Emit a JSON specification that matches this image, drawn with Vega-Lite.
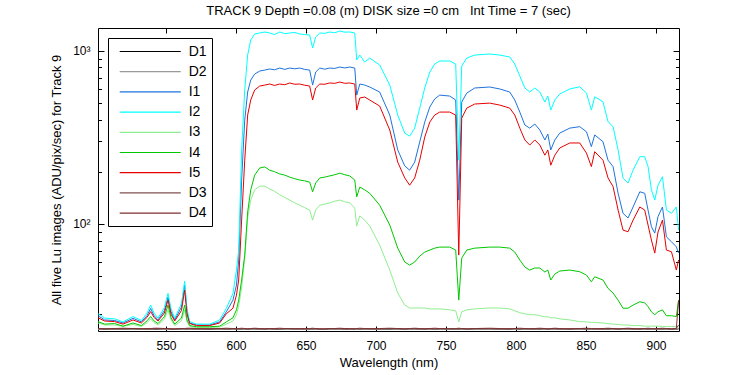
{
 "$schema": "https://vega.github.io/schema/vega-lite/v6.json",
 "width": 581, "height": 303,
 "autosize": {"type": "none"},
 "padding": {"left": 98, "top": 28, "right": 71, "bottom": 44},
 "background": "white",
 "title": {"text": "TRACK 9 Depth =0.08 (m) DISK size =0 cm \u00a0 Int Time = 7 (sec)", "fontSize": 13, "fontWeight": "normal", "font": "Liberation Sans", "color": "black", "offset": 10},
 "config": {
  "view": {"stroke": "black", "strokeWidth": 1},
  "font": "Liberation Sans",
  "axis": {"grid": false, "domain": false, "tickColor": "black", "tickWidth": 1, "labelColor": "black", "titleColor": "black", "labelFont": "Liberation Sans", "titleFont": "Liberation Sans", "labelFontSize": 12, "titleFontSize": 13, "titleFontWeight": "normal"},
  "legend": {"orient": "none", "legendX": 10, "legendY": 10, "strokeColor": "black", "fillColor": "white", "padding": 5, "symbolType": "M-0.24,0H7.9", "symbolSize": 225, "symbolStrokeWidth": 1.2, "labelOffset": 58.7, "labelFontSize": 14, "labelFont": "Liberation Sans", "labelColor": "black", "rowPadding": 4.2, "labelExpr": "datum.label + '  '"}
 },
 "data": {"values": [
  {"wl": 501.4, "D1": 24.6, "D2": 24.5, "I1": 29.4, "I2": 30.2, "I3": 26.7, "I4": 27.2, "I5": 28.6, "D3": 24.7, "D4": 24.8},
  {"wl": 506.2, "D1": 24.5, "D2": 24.6, "I1": 27.8, "I2": 28.5, "I3": 26.0, "I4": 26.3, "I5": 27.4, "D3": 24.8, "D4": 24.7},
  {"wl": 513.3, "D1": 24.7, "D2": 24.5, "I1": 27.6, "I2": 28.2, "I3": 26.0, "I4": 26.5, "I5": 27.2, "D3": 24.6, "D4": 24.8},
  {"wl": 519.3, "D1": 24.6, "D2": 24.6, "I1": 26.7, "I2": 27.1, "I3": 25.5, "I4": 25.6, "I5": 26.3, "D3": 24.7, "D4": 24.9},
  {"wl": 526.4, "D1": 24.5, "D2": 24.5, "I1": 28.4, "I2": 29.1, "I3": 26.2, "I4": 26.7, "I5": 27.8, "D3": 24.8, "D4": 24.8},
  {"wl": 532.4, "D1": 24.7, "D2": 24.6, "I1": 27.1, "I2": 27.6, "I3": 25.5, "I4": 25.8, "I5": 26.7, "D3": 24.7, "D4": 24.7},
  {"wl": 536.5, "D1": 24.6, "D2": 24.5, "I1": 29.5, "I2": 30.5, "I3": 26.8, "I4": 27.5, "I5": 28.8, "D3": 24.6, "D4": 24.8},
  {"wl": 539.0, "D1": 24.6, "D2": 24.5, "I1": 32.4, "I2": 33.9, "I3": 28.2, "I4": 29.1, "I5": 31.1, "D3": 24.6, "D4": 24.8},
  {"wl": 541.5, "D1": 24.5, "D2": 24.6, "I1": 29.4, "I2": 30.4, "I3": 26.8, "I4": 27.4, "I5": 28.7, "D3": 24.8, "D4": 24.9},
  {"wl": 544.3, "D1": 24.5, "D2": 24.6, "I1": 27.8, "I2": 28.5, "I3": 26.0, "I4": 26.5, "I5": 27.4, "D3": 24.8, "D4": 24.9},
  {"wl": 548.8, "D1": 24.7, "D2": 24.5, "I1": 31.5, "I2": 32.8, "I3": 28.0, "I4": 29.0, "I5": 30.5, "D3": 24.7, "D4": 24.8},
  {"wl": 551.4, "D1": 24.7, "D2": 24.5, "I1": 37.7, "I2": 39.6, "I3": 31.8, "I4": 33.9, "I5": 36.2, "D3": 24.7, "D4": 24.8},
  {"wl": 553.6, "D1": 24.6, "D2": 24.6, "I1": 31.0, "I2": 32.2, "I3": 27.8, "I4": 28.6, "I5": 30.0, "D3": 24.6, "D4": 24.7},
  {"wl": 556.2, "D1": 24.6, "D2": 24.6, "I1": 27.8, "I2": 28.5, "I3": 25.8, "I4": 26.3, "I5": 27.4, "D3": 24.6, "D4": 24.7},
  {"wl": 561.0, "D1": 24.5, "D2": 24.5, "I1": 33.0, "I2": 34.5, "I3": 27.5, "I4": 28.5, "I5": 31.5, "D3": 24.8, "D4": 24.8},
  {"wl": 563.3, "D1": 24.5, "D2": 24.5, "I1": 44.2, "I2": 46.6, "I3": 31.8, "I4": 33.9, "I5": 41.4, "D3": 24.8, "D4": 24.8},
  {"wl": 565.0, "D1": 24.6, "D2": 24.6, "I1": 31.0, "I2": 32.0, "I3": 27.0, "I4": 27.8, "I5": 30.0, "D3": 24.7, "D4": 24.9},
  {"wl": 566.9, "D1": 24.7, "D2": 24.6, "I1": 26.7, "I2": 27.2, "I3": 25.5, "I4": 25.8, "I5": 26.5, "D3": 24.7, "D4": 24.9},
  {"wl": 571.7, "D1": 24.6, "D2": 24.5, "I1": 26.0, "I2": 26.3, "I3": 25.1, "I4": 25.4, "I5": 25.8, "D3": 24.6, "D4": 24.8},
  {"wl": 581.2, "D1": 24.5, "D2": 24.6, "I1": 26.0, "I2": 26.3, "I3": 25.1, "I4": 25.4, "I5": 25.8, "D3": 24.8, "D4": 24.7},
  {"wl": 588.3, "D1": 24.7, "D2": 24.5, "I1": 27.1, "I2": 27.8, "I3": 25.3, "I4": 25.6, "I5": 26.7, "D3": 24.7, "D4": 24.8},
  {"wl": 593.1, "D1": 24.6, "D2": 24.6, "I1": 31.0, "I2": 32.5, "I3": 26.3, "I4": 27.1, "I5": 30.2, "D3": 24.6, "D4": 24.9},
  {"wl": 597.8, "D1": 24.5, "D2": 24.5, "I1": 36.2, "I2": 39.6, "I3": 27.4, "I4": 28.6, "I5": 32.5, "D3": 24.8, "D4": 24.8},
  {"wl": 600.3, "D1": 24.7, "D2": 24.6, "I1": 44.2, "I2": 54.0, "I3": 29.8, "I4": 31.8, "I5": 38.7, "D3": 24.7, "D4": 24.7},
  {"wl": 601.9, "D1": 24.6, "D2": 24.5, "I1": 61.7, "I2": 70.5, "I3": 33.5, "I4": 36.2, "I5": 47.3, "D3": 24.6, "D4": 24.8},
  {"wl": 604.0, "D1": 24.5, "D2": 24.6, "I1": 179, "I2": 267, "I3": 42.5, "I4": 47.3, "I5": 105, "D3": 24.8, "D4": 24.9},
  {"wl": 606.2, "D1": 24.7, "D2": 24.5, "I1": 397, "I2": 593, "I3": 63.3, "I4": 65.9, "I5": 233, "D3": 24.7, "D4": 24.8},
  {"wl": 608.3, "D1": 24.6, "D2": 24.6, "I1": 577, "I2": 944, "I3": 108, "I4": 117, "I5": 425, "D3": 24.6, "D4": 24.7},
  {"wl": 610.5, "D1": 24.5, "D2": 24.5, "I1": 677, "I2": 1153, "I3": 137, "I4": 157, "I5": 519, "D3": 24.8, "D4": 24.8},
  {"wl": 613.3, "D1": 24.7, "D2": 24.6, "I1": 733, "I2": 1249, "I3": 157, "I4": 191, "I5": 593, "D3": 24.7, "D4": 24.9},
  {"wl": 616.9, "D1": 24.6, "D2": 24.5, "I1": 763, "I2": 1266, "I3": 165, "I4": 210, "I5": 625, "D3": 24.6, "D4": 24.8},
  {"wl": 620.5, "D1": 24.5, "D2": 24.6, "I1": 773, "I2": 1283, "I3": 165, "I4": 213, "I5": 633, "D3": 24.8, "D4": 24.7},
  {"wl": 624.0, "D1": 24.7, "D2": 24.5, "I1": 784, "I2": 1266, "I3": 159, "I4": 204, "I5": 642, "D3": 24.7, "D4": 24.8},
  {"wl": 627.5, "D1": 24.6, "D2": 24.6, "I1": 776, "I2": 1240, "I3": 154, "I4": 200, "I5": 630, "D3": 24.6, "D4": 24.8},
  {"wl": 631.2, "D1": 24.6, "D2": 24.6, "I1": 794, "I2": 1283, "I3": 147, "I4": 194, "I5": 642, "D3": 24.6, "D4": 24.9},
  {"wl": 634.8, "D1": 24.5, "D2": 24.5, "I1": 780, "I2": 1255, "I3": 142, "I4": 191, "I5": 636, "D3": 24.8, "D4": 24.8},
  {"wl": 638.3, "D1": 24.5, "D2": 24.5, "I1": 794, "I2": 1266, "I3": 137, "I4": 186, "I5": 651, "D3": 24.8, "D4": 24.8},
  {"wl": 642.0, "D1": 24.7, "D2": 24.6, "I1": 786, "I2": 1275, "I3": 132, "I4": 182, "I5": 640, "D3": 24.7, "D4": 24.7},
  {"wl": 645.5, "D1": 24.7, "D2": 24.6, "I1": 794, "I2": 1249, "I3": 128, "I4": 179, "I5": 642, "D3": 24.7, "D4": 24.7},
  {"wl": 649.0, "D1": 24.6, "D2": 24.5, "I1": 780, "I2": 1240, "I3": 124, "I4": 177, "I5": 632, "D3": 24.6, "D4": 24.8},
  {"wl": 652.6, "D1": 24.6, "D2": 24.5, "I1": 773, "I2": 1232, "I3": 120, "I4": 174, "I5": 625, "D3": 24.6, "D4": 24.8},
  {"wl": 654.7, "D1": 24.5, "D2": 24.6, "I1": 633, "I2": 1036, "I3": 105, "I4": 153, "I5": 519, "D3": 24.8, "D4": 24.9},
  {"wl": 656.9, "D1": 24.7, "D2": 24.5, "I1": 753, "I2": 1200, "I3": 120, "I4": 172, "I5": 609, "D3": 24.7, "D4": 24.8},
  {"wl": 659.8, "D1": 24.6, "D2": 24.6, "I1": 794, "I2": 1266, "I3": 128, "I4": 184, "I5": 642, "D3": 24.6, "D4": 24.7},
  {"wl": 663.4, "D1": 24.6, "D2": 24.6, "I1": 782, "I2": 1260, "I3": 130, "I4": 186, "I5": 640, "D3": 24.6, "D4": 24.7},
  {"wl": 666.9, "D1": 24.5, "D2": 24.5, "I1": 794, "I2": 1283, "I3": 132, "I4": 189, "I5": 651, "D3": 24.8, "D4": 24.8},
  {"wl": 670.5, "D1": 24.6, "D2": 24.5, "I1": 790, "I2": 1270, "I3": 135, "I4": 192, "I5": 648, "D3": 24.7, "D4": 24.8},
  {"wl": 674.1, "D1": 24.7, "D2": 24.6, "I1": 805, "I2": 1300, "I3": 137, "I4": 196, "I5": 659, "D3": 24.7, "D4": 24.9},
  {"wl": 677.7, "D1": 24.6, "D2": 24.6, "I1": 795, "I2": 1280, "I3": 134, "I4": 192, "I5": 648, "D3": 24.6, "D4": 24.8},
  {"wl": 681.2, "D1": 24.6, "D2": 24.5, "I1": 805, "I2": 1283, "I3": 132, "I4": 189, "I5": 651, "D3": 24.6, "D4": 24.8},
  {"wl": 684.8, "D1": 24.5, "D2": 24.6, "I1": 794, "I2": 1266, "I3": 123, "I4": 179, "I5": 642, "D3": 24.8, "D4": 24.7},
  {"wl": 686.2, "D1": 24.7, "D2": 24.5, "I1": 554, "I2": 884, "I3": 97.0, "I4": 143, "I5": 454, "D3": 24.7, "D4": 24.8},
  {"wl": 688.4, "D1": 24.6, "D2": 24.6, "I1": 642, "I2": 944, "I3": 111, "I4": 163, "I5": 533, "D3": 24.6, "D4": 24.9},
  {"wl": 691.9, "D1": 24.5, "D2": 24.5, "I1": 633, "I2": 860, "I3": 105, "I4": 157, "I5": 540, "D3": 24.8, "D4": 24.8},
  {"wl": 695.5, "D1": 24.7, "D2": 24.6, "I1": 617, "I2": 907, "I3": 97.0, "I4": 150, "I5": 519, "D3": 24.7, "D4": 24.7},
  {"wl": 702.6, "D1": 24.6, "D2": 24.5, "I1": 577, "I2": 827, "I3": 75.3, "I4": 128, "I5": 479, "D3": 24.6, "D4": 24.8},
  {"wl": 709.8, "D1": 24.5, "D2": 24.6, "I1": 425, "I2": 633, "I3": 54.0, "I4": 98.3, "I5": 348, "D3": 24.8, "D4": 24.9},
  {"wl": 715.5, "D1": 24.7, "D2": 24.5, "I1": 267, "I2": 425, "I3": 39.8, "I4": 72.3, "I5": 227, "D3": 24.7, "D4": 24.8},
  {"wl": 720.5, "D1": 24.6, "D2": 24.6, "I1": 216, "I2": 334, "I3": 33.9, "I4": 60.1, "I5": 184, "D3": 24.6, "D4": 24.7},
  {"wl": 724.0, "D1": 24.5, "D2": 24.5, "I1": 204, "I2": 321, "I3": 32.6, "I4": 57.7, "I5": 167, "D3": 24.8, "D4": 24.8},
  {"wl": 727.6, "D1": 24.7, "D2": 24.6, "I1": 227, "I2": 357, "I3": 32.6, "I4": 60.1, "I5": 184, "D3": 24.7, "D4": 24.9},
  {"wl": 731.2, "D1": 24.6, "D2": 24.5, "I1": 297, "I2": 466, "I3": 32.6, "I4": 65.0, "I5": 233, "D3": 24.6, "D4": 24.8},
  {"wl": 734.8, "D1": 24.5, "D2": 24.6, "I1": 387, "I2": 609, "I3": 32.6, "I4": 68.6, "I5": 317, "D3": 24.8, "D4": 24.7},
  {"wl": 738.4, "D1": 24.7, "D2": 24.5, "I1": 473, "I2": 753, "I3": 32.2, "I4": 70.5, "I5": 387, "D3": 24.7, "D4": 24.8},
  {"wl": 741.9, "D1": 24.6, "D2": 24.6, "I1": 526, "I2": 838, "I3": 32.2, "I4": 72.3, "I5": 425, "D3": 24.6, "D4": 24.9},
  {"wl": 745.5, "D1": 24.5, "D2": 24.5, "I1": 554, "I2": 872, "I3": 32.2, "I4": 73.3, "I5": 442, "D3": 24.8, "D4": 24.8},
  {"wl": 752.6, "D1": 24.7, "D2": 24.6, "I1": 547, "I2": 872, "I3": 31.8, "I4": 73.3, "I5": 442, "D3": 24.7, "D4": 24.7},
  {"wl": 756.9, "D1": 24.6, "D2": 24.5, "I1": 519, "I2": 838, "I3": 31.4, "I4": 70.5, "I5": 425, "D3": 24.6, "D4": 24.8},
  {"wl": 759.1, "D1": 24.5, "D2": 24.6, "I1": 137, "I2": 233, "I3": 27.1, "I4": 36.2, "I5": 65.9, "D3": 24.8, "D4": 24.9},
  {"wl": 761.2, "D1": 24.7, "D2": 24.5, "I1": 505, "I2": 816, "I3": 31.0, "I4": 63.3, "I5": 408, "D3": 24.7, "D4": 24.8},
  {"wl": 764.8, "D1": 24.6, "D2": 24.6, "I1": 569, "I2": 907, "I3": 31.8, "I4": 70.5, "I5": 466, "D3": 24.6, "D4": 24.7},
  {"wl": 770.5, "D1": 24.5, "D2": 24.5, "I1": 609, "I2": 944, "I3": 32.2, "I4": 72.3, "I5": 492, "D3": 24.8, "D4": 24.8},
  {"wl": 781.2, "D1": 24.7, "D2": 24.6, "I1": 617, "I2": 957, "I3": 32.6, "I4": 73.3, "I5": 498, "D3": 24.7, "D4": 24.9},
  {"wl": 788.4, "D1": 24.6, "D2": 24.5, "I1": 601, "I2": 944, "I3": 32.6, "I4": 73.3, "I5": 485, "D3": 24.6, "D4": 24.8},
  {"wl": 795.5, "D1": 24.5, "D2": 24.6, "I1": 577, "I2": 920, "I3": 32.2, "I4": 72.3, "I5": 466, "D3": 24.8, "D4": 24.7},
  {"wl": 799.1, "D1": 24.7, "D2": 24.5, "I1": 519, "I2": 838, "I3": 31.4, "I4": 68.6, "I5": 425, "D3": 24.7, "D4": 24.8},
  {"wl": 802.7, "D1": 24.6, "D2": 24.6, "I1": 442, "I2": 714, "I3": 30.6, "I4": 61.7, "I5": 357, "D3": 24.6, "D4": 24.9},
  {"wl": 806.3, "D1": 24.5, "D2": 24.5, "I1": 372, "I2": 609, "I3": 30.2, "I4": 56.2, "I5": 305, "D3": 24.8, "D4": 24.8},
  {"wl": 809.8, "D1": 24.7, "D2": 24.6, "I1": 357, "I2": 577, "I3": 29.8, "I4": 54.0, "I5": 285, "D3": 24.7, "D4": 24.7},
  {"wl": 813.4, "D1": 24.6, "D2": 24.5, "I1": 377, "I2": 609, "I3": 29.8, "I4": 55.5, "I5": 305, "D3": 24.6, "D4": 24.8},
  {"wl": 817.0, "D1": 24.5, "D2": 24.6, "I1": 348, "I2": 577, "I3": 29.4, "I4": 55.5, "I5": 285, "D3": 24.8, "D4": 24.9},
  {"wl": 820.6, "D1": 24.7, "D2": 24.5, "I1": 305, "I2": 505, "I3": 29.0, "I4": 52.6, "I5": 249, "D3": 24.7, "D4": 24.8},
  {"wl": 822.7, "D1": 24.6, "D2": 24.6, "I1": 330, "I2": 547, "I3": 29.0, "I4": 54.0, "I5": 267, "D3": 24.6, "D4": 24.7},
  {"wl": 824.8, "D1": 24.5, "D2": 24.5, "I1": 267, "I2": 454, "I3": 28.6, "I4": 47.3, "I5": 218, "D3": 24.8, "D4": 24.8},
  {"wl": 827.7, "D1": 24.7, "D2": 24.6, "I1": 305, "I2": 519, "I3": 28.6, "I4": 51.2, "I5": 249, "D3": 24.7, "D4": 24.9},
  {"wl": 831.2, "D1": 24.6, "D2": 24.5, "I1": 334, "I2": 562, "I3": 28.2, "I4": 53.3, "I5": 274, "D3": 24.6, "D4": 24.8},
  {"wl": 838.4, "D1": 24.5, "D2": 24.6, "I1": 357, "I2": 601, "I3": 27.8, "I4": 54.0, "I5": 293, "D3": 24.8, "D4": 24.7},
  {"wl": 845.5, "D1": 24.7, "D2": 24.5, "I1": 364, "I2": 619, "I3": 27.2, "I4": 52.8, "I5": 293, "D3": 24.7, "D4": 24.8},
  {"wl": 850.3, "D1": 24.6, "D2": 24.6, "I1": 340, "I2": 569, "I3": 27.1, "I4": 50.5, "I5": 256, "D3": 24.6, "D4": 24.9},
  {"wl": 853.8, "D1": 24.5, "D2": 24.5, "I1": 279, "I2": 454, "I3": 26.9, "I4": 46.2, "I5": 214, "D3": 24.8, "D4": 24.8},
  {"wl": 856.2, "D1": 24.7, "D2": 24.6, "I1": 326, "I2": 542, "I3": 26.9, "I4": 49.4, "I5": 261, "D3": 24.7, "D4": 24.7},
  {"wl": 862.1, "D1": 24.6, "D2": 24.5, "I1": 298, "I2": 507, "I3": 26.7, "I4": 47.3, "I5": 233, "D3": 24.6, "D4": 24.8},
  {"wl": 865.7, "D1": 24.5, "D2": 24.6, "I1": 233, "I2": 389, "I3": 26.5, "I4": 42.3, "I5": 184, "D3": 24.8, "D4": 24.9},
  {"wl": 869.3, "D1": 24.7, "D2": 24.5, "I1": 214, "I2": 364, "I3": 26.3, "I4": 39.8, "I5": 164, "D3": 24.7, "D4": 24.8},
  {"wl": 872.9, "D1": 24.6, "D2": 24.6, "I1": 150, "I2": 267, "I3": 26.2, "I4": 36.2, "I5": 120, "D3": 24.6, "D4": 24.7},
  {"wl": 876.4, "D1": 24.5, "D2": 24.5, "I1": 115, "I2": 184, "I3": 26.0, "I4": 32.5, "I5": 91.9, "D3": 24.8, "D4": 24.8},
  {"wl": 880.0, "D1": 24.7, "D2": 24.6, "I1": 108, "I2": 172, "I3": 26.0, "I4": 32.5, "I5": 89.9, "D3": 24.7, "D4": 24.9},
  {"wl": 883.6, "D1": 24.6, "D2": 24.5, "I1": 125, "I2": 204, "I3": 25.8, "I4": 33.9, "I5": 105, "D3": 24.6, "D4": 24.8},
  {"wl": 888.4, "D1": 24.5, "D2": 24.6, "I1": 153, "I2": 244, "I3": 25.8, "I4": 35.4, "I5": 125, "D3": 24.8, "D4": 24.7},
  {"wl": 891.9, "D1": 24.7, "D2": 24.5, "I1": 150, "I2": 244, "I3": 25.6, "I4": 34.9, "I5": 120, "D3": 24.7, "D4": 24.8},
  {"wl": 894.3, "D1": 24.6, "D2": 24.6, "I1": 120, "I2": 214, "I3": 25.6, "I4": 33.2, "I5": 98.3, "D3": 24.6, "D4": 24.9},
  {"wl": 896.7, "D1": 24.5, "D2": 24.5, "I1": 96.1, "I2": 157, "I3": 25.6, "I4": 31.0, "I5": 80.5, "D3": 24.8, "D4": 24.8},
  {"wl": 899.1, "D1": 24.7, "D2": 24.6, "I1": 88.3, "I2": 137, "I3": 25.6, "I4": 29.8, "I5": 67.7, "D3": 24.7, "D4": 24.7},
  {"wl": 901.4, "D1": 24.6, "D2": 24.5, "I1": 110, "I2": 167, "I3": 25.6, "I4": 31.0, "I5": 89.6, "D3": 24.6, "D4": 24.8},
  {"wl": 904.6, "D1": 24.5, "D2": 24.6, "I1": 125, "I2": 187, "I3": 25.5, "I4": 31.8, "I5": 105, "D3": 24.8, "D4": 24.9},
  {"wl": 907.4, "D1": 24.7, "D2": 24.5, "I1": 84.1, "I2": 120, "I3": 25.5, "I4": 29.4, "I5": 70.5, "D3": 24.7, "D4": 24.8},
  {"wl": 911.0, "D1": 24.6, "D2": 24.6, "I1": 78.7, "I2": 115, "I3": 25.5, "I4": 29.4, "I5": 68.9, "D3": 24.6, "D4": 24.7},
  {"wl": 914.5, "D1": 24.5, "D2": 24.5, "I1": 73.6, "I2": 125, "I3": 25.4, "I4": 29.1, "I5": 54.0, "D3": 24.8, "D4": 24.8},
  {"wl": 916.1, "D1": 24.7, "D2": 24.6, "I1": 67.7, "I2": 91.9, "I3": 25.4, "I4": 36.2, "I5": 61.7, "D3": 26.0, "D4": 36.0}
 ]},
 "transform": [{"fold": ["D1", "D2", "I1", "I2", "I3", "I4", "I5", "D3", "D4"], "as": ["series", "value"]}],
 "encoding": {
  "color": {"field": "series", "type": "nominal", "sort": ["D1", "D2", "I1", "I2", "I3", "I4", "I5", "D3", "D4"],
            "scale": {"domain": ["D1", "D2", "I1", "I2", "I3", "I4", "I5", "D3", "D4"], "range": ["#000000", "#999999", "#1e73dc", "#00ffff", "#90ee90", "#00c800", "#e60000", "#805050", "#803030"]},
            "legend": {"title": null}}
 },
 "layer": [
  {
   "transform": [{"filter": "datum.series != 'D3' && datum.series != 'D4'"}],
   "mark": {"type": "line", "strokeWidth": 1, "clip": true},
   "encoding": {
    "x": {"field": "wl", "type": "quantitative", "scale": {"domain": [501.4, 916.4], "nice": false, "zero": false},
          "axis": {"orient": "bottom", "values": [550, 600, 650, 700, 750, 800, 850, 900], "tickSize": -5, "labelPadding": 14, "title": "Wavelength (nm)", "titlePadding": 5}},
    "y": {"field": "value", "type": "quantitative", "scale": {"type": "log", "domain": [24, 1353], "nice": false},
          "axis": {"orient": "left", "values": [30, 40, 50, 60, 70, 80, 90, 100, 200, 300, 400, 500, 600, 700, 800, 900, 1000],
                   "labelExpr": "datum.value == 100 ? '10²' : (datum.value == 1000 ? '10³' : '')",
                   "tickSize": {"condition": {"test": "datum.value == 100 || datum.value == 1000", "value": -6}, "value": -3.5},
                   "labelPadding": 14, "labelOverlap": false, "title": "All five Lu images (ADU/pix/sec) for Track 9", "titlePadding": 9}}
   }
  },
  {
   "transform": [{"filter": "datum.series == 'D3' || datum.series == 'D4'"}],
   "mark": {"type": "line", "strokeWidth": 1, "clip": true},
   "encoding": {
    "x": {"field": "wl", "type": "quantitative", "scale": {"domain": [501.4, 916.4], "nice": false, "zero": false},
          "axis": {"orient": "top", "values": [550, 600, 650, 700, 750, 800, 850, 900], "tickSize": -5, "labels": false, "title": null}},
    "y": {"field": "value", "type": "quantitative", "scale": {"type": "log", "domain": [24, 1353], "nice": false},
          "axis": {"orient": "right", "values": [30, 40, 50, 60, 70, 80, 90, 100, 200, 300, 400, 500, 600, 700, 800, 900, 1000],
                   "tickSize": {"condition": {"test": "datum.value == 100 || datum.value == 1000", "value": -6}, "value": -3.5},
                   "labels": false, "title": null}}
   }
  }
 ],
 "resolve": {"axis": {"x": "independent", "y": "independent"}}
}
